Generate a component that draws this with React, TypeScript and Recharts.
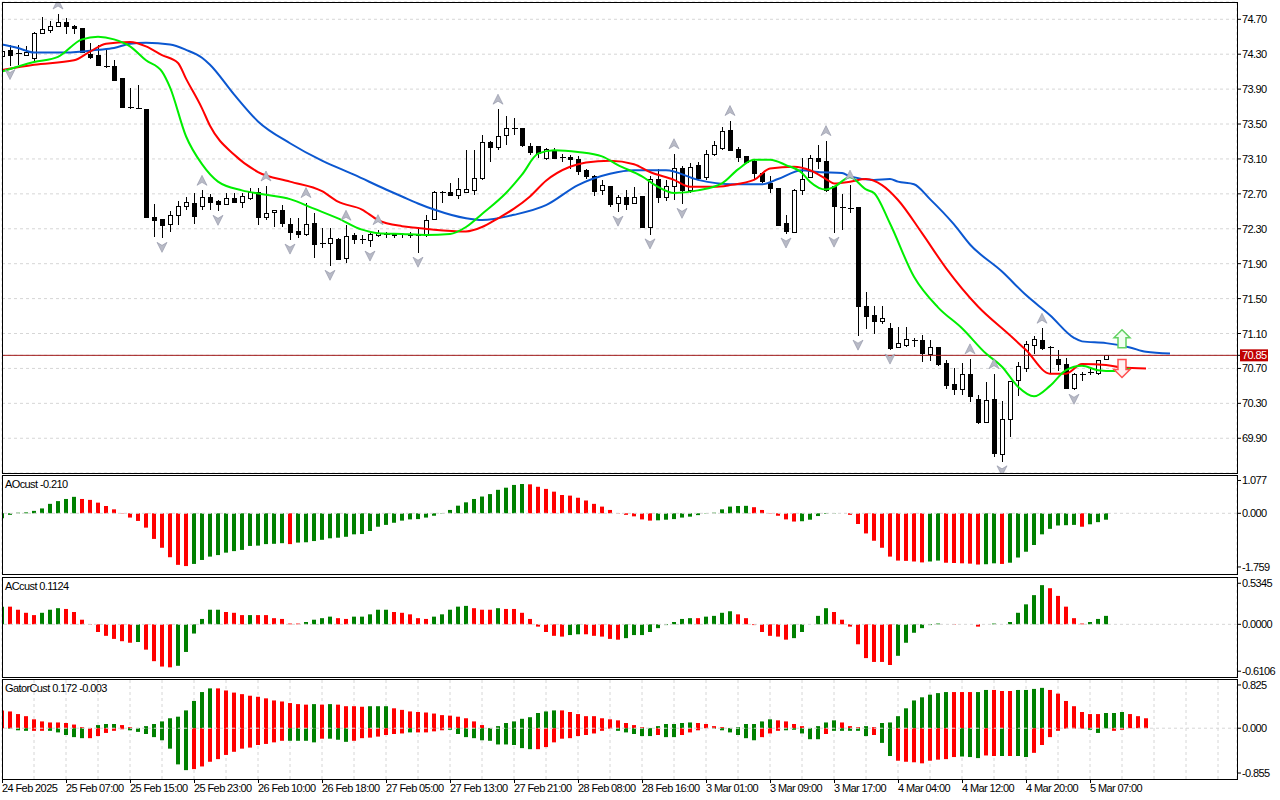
import React from "react";
import {
	ComposedChart,
	Bar,
	Line,
	Scatter,
	XAxis,
	YAxis,
	CartesianGrid,
	ReferenceLine,
	Cell,
} from "recharts";

const FONT = '"Liberation Sans", Arial, sans-serif';

// H1 candles, bar 0 = 24 Feb 2025
const open = [74.27, 74.34, 74.31, 74.29, 74.25, 74.54, 74.57, 74.62, 74.66, 74.62,
	74.6, 74.3, 74.28, 74.16, 74.16, 74.02, 73.69, 73.68, 73.67, 72.43,
	72.41, 72.35, 72.45, 72.55, 72.59, 72.55, 72.66, 72.61, 72.58, 72.65,
	72.6, 72.65, 72.72, 72.43, 72.49, 72.51, 72.35, 72.27, 72.23, 72.36,
	72.13, 72.13, 72.18, 71.96, 72.22, 72.18, 72.17, 72.22, 72.23, 72.24,
	72.23, 72.24, 72.24, 72.22, 72.41, 72.71, 72.71, 72.68, 72.72, 72.74,
	72.88, 73.29, 73.23, 73.37, 73.45, 73.45, 73.24, 73.24, 73.1, 73.18,
	73.12, 73.12, 73.09, 72.97, 72.9, 72.74, 72.78, 72.59, 72.66, 72.59,
	72.67, 72.31, 72.87, 72.66, 72.78, 72.99, 72.74, 73.02, 72.89, 73.15,
	73.22, 73.43, 73.21, 73.13, 73.07, 72.93, 72.82, 72.76, 72.36, 72.26,
	72.74, 72.89, 73.11, 73.07, 72.78, 72.54, 72.53, 72.54, 71.41, 71.31,
	71.24, 71.16, 70.94, 70.96, 71.02, 71.02, 70.86, 70.94, 70.76, 70.52,
	70.46, 70.63, 70.34, 70.08, 70.34, 69.71, 70.12, 70.56, 70.7, 70.96,
	71.02, 70.94, 70.8, 70.75, 70.47, 70.63, 70.65, 70.64, 70.8];
const high = [74.36, 74.41, 74.41, 74.39, 74.55, 74.73, 74.68, 74.76, 74.71, 74.63,
	74.6, 74.43, 74.41, 74.36, 74.23, 74.02, 73.91, 73.95, 73.67, 72.58,
	72.41, 72.5, 72.62, 72.66, 72.71, 72.74, 72.7, 72.63, 72.71, 72.71,
	72.71, 72.77, 72.77, 72.79, 72.52, 72.57, 72.42, 72.42, 72.6, 72.48,
	72.31, 72.31, 72.19, 72.34, 72.25, 72.23, 72.25, 72.29, 72.26, 72.25,
	72.25, 72.26, 72.32, 72.46, 72.73, 72.73, 72.82, 72.88, 73.2, 73.2,
	73.38, 73.31, 73.67, 73.59, 73.57, 73.45, 73.28, 73.24, 73.22, 73.23,
	73.16, 73.15, 73.13, 72.98, 72.92, 72.86, 72.78, 72.69, 72.74, 72.78,
	72.67, 72.9, 72.99, 72.86, 73.16, 73.02, 73.05, 73.06, 73.2, 73.3,
	73.47, 73.54, 73.24, 73.13, 73.09, 72.95, 72.9, 72.76, 72.46, 72.76,
	73.11, 73.14, 73.26, 73.31, 72.78, 72.7, 72.8, 72.54, 71.58, 71.42,
	71.42, 71.22, 71.17, 71.18, 71.05, 71.08, 71.03, 70.95, 70.8, 70.71,
	70.76, 70.81, 70.4, 70.55, 70.64, 70.33, 70.55, 70.77, 71.01, 71.07,
	71.16, 70.96, 70.91, 70.82, 70.65, 70.66, 70.69, 70.8, 70.85];
const low = [74.22, 74.17, 74.18, 74.28, 74.21, 74.53, 74.54, 74.61, 74.53, 74.53,
	74.31, 74.25, 74.16, 74.14, 73.99, 73.68, 73.67, 73.67, 72.43, 72.21,
	72.19, 72.26, 72.34, 72.52, 72.36, 72.52, 72.52, 72.5, 72.57, 72.59,
	72.54, 72.63, 72.34, 72.4, 72.32, 72.32, 72.17, 72.2, 72.22, 71.97,
	72.08, 71.87, 71.94, 71.91, 72.12, 72.12, 72.09, 72.21, 72.2, 72.19,
	72.2, 72.2, 72.02, 72.21, 72.4, 72.59, 72.67, 72.64, 72.71, 72.69,
	72.86, 73.07, 73.2, 73.26, 73.37, 73.24, 73.15, 73.11, 73.09, 73.1,
	73.07, 72.99, 72.92, 72.87, 72.67, 72.69, 72.55, 72.49, 72.52, 72.59,
	72.31, 72.23, 72.6, 72.62, 72.63, 72.58, 72.71, 72.86, 72.86, 73.13,
	73.2, 73.2, 73.07, 73.04, 72.86, 72.82, 72.71, 72.34, 72.24, 72.25,
	72.69, 72.88, 72.99, 72.72, 72.25, 72.29, 72.48, 71.07, 71.15, 71.09,
	71.21, 70.91, 70.93, 70.95, 70.95, 70.77, 70.79, 70.73, 70.47, 70.4,
	70.4, 70.31, 70.06, 70.08, 69.68, 69.63, 69.92, 70.38, 70.66, 70.86,
	70.91, 70.64, 70.67, 70.46, 70.45, 70.56, 70.62, 70.63, 70.8];
const close = [74.33, 74.28, 74.3, 74.32, 74.54, 74.58, 74.62, 74.66, 74.62, 74.59,
	74.32, 74.26, 74.17, 74.16, 74.0, 73.69, 73.69, 73.68, 72.43, 72.39,
	72.34, 72.45, 72.55, 72.6, 72.44, 72.66, 72.6, 72.58, 72.65, 72.6,
	72.67, 72.71, 72.43, 72.48, 72.51, 72.36, 72.26, 72.23, 72.35, 72.12,
	72.13, 72.19, 71.95, 72.21, 72.18, 72.18, 72.23, 72.25, 72.24, 72.22,
	72.23, 72.22, 72.22, 72.4, 72.71, 72.71, 72.68, 72.75, 72.75, 72.88,
	73.29, 73.23, 73.36, 73.45, 73.45, 73.25, 73.17, 73.16, 73.21, 73.11,
	73.12, 73.09, 72.96, 72.9, 72.73, 72.8, 72.58, 72.66, 72.58, 72.66,
	72.31, 72.86, 72.66, 72.79, 72.99, 72.74, 73.0, 72.88, 73.15, 73.25,
	73.42, 73.2, 73.12, 73.06, 72.93, 72.84, 72.76, 72.34, 72.27, 72.74,
	72.86, 73.11, 73.07, 72.74, 72.55, 72.53, 72.53, 71.41, 71.3, 71.24,
	71.27, 70.93, 70.98, 71.03, 71.02, 70.87, 70.94, 70.74, 70.5, 70.46,
	70.63, 70.38, 70.08, 70.33, 69.72, 70.11, 70.55, 70.72, 70.97, 71.03,
	70.93, 70.94, 70.74, 70.47, 70.63, 70.64, 70.65, 70.79, 70.85];

// alligator lines, [bar, price], shifted into the future
const jaw = [[0, 74.41], [2, 74.37], [4, 74.32], [8, 74.32], [12, 74.35], [14, 74.37], [16, 74.42], [18, 74.43],
	[21, 74.41], [23, 74.35], [25, 74.26], [26, 74.18], [29, 73.84], [32, 73.53], [36, 73.28], [40, 73.08],
	[44, 72.92], [48, 72.75], [50, 72.67], [52, 72.59], [54, 72.52], [58, 72.42], [60, 72.4], [64, 72.46],
	[68, 72.57], [72, 72.8], [76, 72.93], [79, 72.97], [83, 72.97], [87, 72.86], [91, 72.81], [95, 72.81],
	[97, 72.87], [100, 72.97], [102, 72.95], [105, 72.94], [106, 72.9], [109, 72.86], [111, 72.87], [112, 72.84],
	[114, 72.81], [116, 72.64], [119, 72.35], [121, 72.12], [125, 71.81], [128, 71.54], [131, 71.31], [134, 71.05],
	[135, 71.01], [138, 70.99], [141, 70.94], [143, 70.89], [146, 70.87]];
const teeth = [[0, 74.12], [4, 74.18], [9, 74.23], [11, 74.33], [13, 74.42], [16, 74.44], [18, 74.39], [20, 74.29],
	[22, 74.2], [23, 74.02], [25, 73.68], [26, 73.48], [29, 73.15], [32, 72.95], [36, 72.84], [40, 72.73],
	[42, 72.61], [45, 72.52], [47, 72.4], [50, 72.33], [52, 72.31], [54, 72.29], [58, 72.27], [60, 72.32],
	[62, 72.42], [64, 72.53], [66, 72.67], [68, 72.85], [71, 73.01], [73, 73.06], [76, 73.08], [79, 73.04],
	[81, 72.95], [84, 72.86], [86, 72.78], [89, 72.78], [91, 72.8], [94, 72.86], [96, 72.99], [99, 73.01],
	[101, 72.97], [103, 72.87], [104, 72.82], [106, 72.84], [108, 72.87], [110, 72.8], [112, 72.63], [115, 72.25],
	[118, 71.85], [122, 71.41], [126, 71.08], [128, 70.91], [131, 70.64], [133, 70.64], [135, 70.75], [138, 70.74],
	[140, 70.71], [143, 70.7]];
const lips = [[0, 74.1], [4, 74.21], [7, 74.27], [10, 74.47], [12, 74.5], [14, 74.47], [16, 74.39], [18, 74.23],
	[20, 74.1], [21, 73.92], [23, 73.36], [25, 73.04], [27, 72.84], [30, 72.74], [33, 72.69], [36, 72.64],
	[39, 72.53], [42, 72.42], [45, 72.29], [47, 72.25], [50, 72.24], [53, 72.23], [56, 72.24], [58, 72.32],
	[60, 72.47], [63, 72.71], [65, 72.92], [67, 73.16], [69, 73.2], [72, 73.18], [75, 73.13], [77, 73.03],
	[80, 72.9], [82, 72.78], [84, 72.71], [87, 72.74], [90, 72.82], [92, 72.98], [94, 73.09], [96, 73.09],
	[98, 73.03], [100, 72.94], [101, 72.84], [103, 72.75], [104, 72.78], [106, 72.89], [108, 72.75], [109, 72.71],
	[111, 72.36], [114, 71.75], [117, 71.4], [120, 71.16], [123, 70.87], [125, 70.72], [127, 70.49], [129, 70.38],
	[131, 70.5], [133, 70.68], [135, 70.73], [137, 70.68], [139, 70.67], [141, 70.7]];

const fractalUp = [7, 25, 33, 38, 43, 47, 62, 84, 91, 103, 106, 121, 124, 130];
const fractalDown = [1, 20, 27, 36, 41, 46, 52, 77, 81, 85, 98, 104, 107, 111, 125, 134];
const signalUp = [{ i: 140, v: 71.04 }];
const signalDown = [{ i: 140, v: 70.7 }];

const aoValues = [-0.16, -0.05, 0.02, 0.03, 0.08, 0.16, 0.31, 0.4, 0.47, 0.54,
	0.47, 0.44, 0.35, 0.24, 0.13, 0.01, -0.14, -0.25, -0.47, -0.84,
	-1.13, -1.44, -1.69, -1.73, -1.66, -1.53, -1.42, -1.37, -1.29, -1.24,
	-1.2, -1.07, -1.06, -1.01, -1.0, -0.98, -1.01, -0.96, -0.95, -0.91,
	-0.87, -0.82, -0.8, -0.77, -0.69, -0.68, -0.58, -0.44, -0.38, -0.31,
	-0.24, -0.2, -0.19, -0.14, -0.08, -0.01, 0.11, 0.25, 0.36, 0.47,
	0.55, 0.63, 0.77, 0.84, 0.93, 0.96, 0.95, 0.87, 0.8, 0.71,
	0.6, 0.58, 0.51, 0.42, 0.31, 0.22, 0.11, 0.01, -0.05, -0.1,
	-0.2, -0.24, -0.23, -0.21, -0.19, -0.14, -0.11, -0.06, -0.01, 0.02,
	0.13, 0.22, 0.24, 0.245, 0.2, 0.11, 0.01, -0.08, -0.2, -0.27,
	-0.26, -0.21, -0.09, -0.02, 0.01, 0.0, -0.05, -0.35, -0.66, -0.9,
	-1.13, -1.42, -1.55, -1.56, -1.58, -1.61, -1.58, -1.55, -1.62, -1.63,
	-1.64, -1.65, -1.68, -1.67, -1.64, -1.66, -1.62, -1.45, -1.26, -1.04,
	-0.69, -0.51, -0.4, -0.39, -0.38, -0.44, -0.36, -0.29, -0.21];
const aoColors = "gggggggggg rrrrrrrrrr rrrrgggggg ggggggrggg gggggggggg gggggggggg ggggggrrrr rrrrrrrrrr rrgggggggg ggggrrrrrr gggggrrrrr rrrrrrggrr rrrggrgggg gggggrggg";

const acValues = [0.23, 0.23, 0.19, 0.15, 0.12, 0.15, 0.19, 0.21, 0.2, 0.16,
	0.06, -0.005, -0.1, -0.15, -0.19, -0.22, -0.24, -0.23, -0.33, -0.48,
	-0.55, -0.56, -0.54, -0.36, -0.12, 0.07, 0.19, 0.19, 0.16, 0.15,
	0.12, 0.12, 0.12, 0.12, 0.08, 0.07, 0.01, 0.01, 0.03, 0.06,
	0.08, 0.1, 0.08, 0.07, 0.1, 0.1, 0.13, 0.19, 0.19, 0.16,
	0.15, 0.13, 0.08, 0.07, 0.1, 0.13, 0.19, 0.23, 0.24, 0.21,
	0.19, 0.19, 0.21, 0.2, 0.2, 0.15, 0.07, -0.03, -0.1, -0.15,
	-0.16, -0.14, -0.13, -0.13, -0.15, -0.16, -0.19, -0.2, -0.18, -0.14,
	-0.14, -0.1, -0.05, -0.01, 0.03, 0.07, 0.08, 0.08, 0.1, 0.11,
	0.15, 0.17, 0.13, 0.08, -0.01, -0.1, -0.15, -0.16, -0.2, -0.18,
	-0.1, 0.0, 0.11, 0.21, 0.16, 0.06, -0.03, -0.26, -0.44, -0.49,
	-0.49, -0.53, -0.41, -0.24, -0.11, -0.05, -0.01, 0.01, 0.0, -0.005,
	0.0, 0.0, -0.03, 0.0, 0.01, 0.0, 0.03, 0.15, 0.26, 0.38,
	0.51, 0.47, 0.37, 0.23, 0.08, 0.01, 0.03, 0.07, 0.11];
const acColors = "grrrrgggrr rrrrrrrgrr rrggggggrr rgrrrrrrgg ggrrgggggr rrrrgggggr rrgrrrrrrr rggrrrrrgg gggggggrgg ggrrrrrrrg ggggrrrrrr rrggggggrr ggrggrgggg grrrrrggg";

const gatorUp = [0.34, 0.32, 0.27, 0.23, 0.17, 0.13, 0.11, 0.11, 0.1, 0.07,
	0.02, 0.005, 0.06, 0.08, 0.08, 0.06, 0.02, 0.005, 0.04, 0.08,
	0.13, 0.19, 0.22, 0.34, 0.52, 0.69, 0.76, 0.76, 0.72, 0.68,
	0.65, 0.62, 0.6, 0.57, 0.53, 0.51, 0.48, 0.46, 0.45, 0.46,
	0.45, 0.46, 0.45, 0.42, 0.42, 0.41, 0.42, 0.42, 0.42, 0.38,
	0.35, 0.32, 0.31, 0.3, 0.28, 0.25, 0.24, 0.22, 0.19, 0.13,
	0.06, 0.005, 0.04, 0.1, 0.13, 0.18, 0.21, 0.29, 0.32, 0.34,
	0.34, 0.31, 0.27, 0.23, 0.23, 0.19, 0.17, 0.15, 0.1, 0.06,
	0.02, 0.005, 0.04, 0.08, 0.08, 0.1, 0.11, 0.1, 0.08, 0.04,
	0.02, 0.005, 0.02, 0.08, 0.08, 0.13, 0.17, 0.15, 0.13, 0.08,
	0.04, 0.005, 0.04, 0.11, 0.15, 0.11, 0.04, 0.02, 0.04, 0.02,
	0.1, 0.11, 0.23, 0.38, 0.53, 0.59, 0.64, 0.67, 0.69, 0.69,
	0.69, 0.69, 0.69, 0.73, 0.73, 0.71, 0.71, 0.73, 0.73, 0.75,
	0.77, 0.73, 0.66, 0.52, 0.42, 0.31, 0.27, 0.27, 0.29, 0.29,
	0.31, 0.27, 0.23, 0.19];
const gatorUpColors = "rrrrrrrrrr rrgggrrggg gggggggrrr rrrrrrrrrg rgrrrrgggr rrrrrrrrrr rrgggggggg rrrrrrrrrr rggggggrrr rrgggggrrr rggggrrrgr gggggggggr rrggrrrggg grrrrrrrgg grrr";
const gatorDown = [0, -0.01, -0.04, -0.05, -0.05, -0.05, -0.05, -0.08, -0.13, -0.17,
	-0.19, -0.19, -0.15, -0.09, -0.05, -0.02, -0.04, -0.07, -0.11, -0.17,
	-0.23, -0.39, -0.69, -0.8, -0.78, -0.73, -0.64, -0.59, -0.51, -0.45,
	-0.39, -0.37, -0.32, -0.3, -0.27, -0.24, -0.24, -0.24, -0.24, -0.27,
	-0.2, -0.2, -0.22, -0.26, -0.24, -0.19, -0.18, -0.16, -0.13, -0.11,
	-0.1, -0.08, -0.08, -0.08, -0.06, -0.04, -0.03, -0.11, -0.17, -0.19,
	-0.23, -0.24, -0.31, -0.31, -0.32, -0.38, -0.4, -0.4, -0.36, -0.27,
	-0.2, -0.19, -0.15, -0.13, -0.1, -0.05, -0.01, -0.05, -0.08, -0.11,
	-0.15, -0.15, -0.13, -0.17, -0.17, -0.13, -0.08, -0.04, 0, -0.01,
	-0.04, -0.08, -0.13, -0.19, -0.23, -0.17, -0.1, -0.05, -0.04, -0.03,
	-0.1, -0.21, -0.21, -0.11, -0.05, -0.05, -0.05, -0.05, -0.15, -0.13,
	-0.28, -0.53, -0.62, -0.64, -0.65, -0.67, -0.62, -0.6, -0.59, -0.55,
	-0.54, -0.55, -0.57, -0.52, -0.53, -0.53, -0.53, -0.53, -0.55, -0.47,
	-0.32, -0.17, -0.05, -0.01, -0.01, -0.01, -0.03, -0.09, -0.003, -0.05,
	-0.03];
const gatorDownColors = "ggggrrgggg grrrrrgggg ggggrrrrrr rrrrrrgggg rgggrrrrrr rgrrrrgggg gggggggrrr rrrrrrrggg ggrggrrrrg gggggrrrgg gggrgggggr ggrrrrrrrr gggrrgrggr rrrrrrgggr r";

const timeLabels = ["24 Feb 2025", "25 Feb 07:00", "25 Feb 15:00", "25 Feb 23:00", "26 Feb 10:00", "26 Feb 18:00",
	"27 Feb 05:00", "27 Feb 13:00", "27 Feb 21:00", "28 Feb 08:00", "28 Feb 16:00", "3 Mar 01:00",
	"3 Mar 09:00", "3 Mar 17:00", "4 Mar 04:00", "4 Mar 12:00", "4 Mar 20:00", "5 Mar 07:00"];
const gridTicks = [0, 4, 8, 12, 16, 20, 24, 28, 32, 36, 40, 44, 48, 52, 56, 60, 64, 68, 72, 76,
	80, 84, 88, 92, 96, 100, 104, 108, 112, 116, 120, 124, 128, 132, 136, 140, 144, 148, 152];
const priceTicks = [69.9, 70.3, 70.7, 71.1, 71.5, 71.9, 72.3, 72.7, 73.1, 73.5, 73.9, 74.3, 74.7];

const GREEN = "#008000";
const RED = "#ff0000";
const GRID = "#d6d6d6";
const lastClose = close[close.length - 1];

const colorOf = (s: string) => s.replace(/ /g, "").split("").map((ch) => (ch === "g" ? GREEN : RED));

const candles = open.map((o, k) => ({ i: k, range: [low[k], high[k]], o, h: high[k], l: low[k], c: close[k] }));
const toPoints = (arr: number[][]) => arr.map(([i, v]) => ({ i, v }));
const upFractals = fractalUp.map((k) => ({ i: k, v: high[k] }));
const downFractals = fractalDown.map((k) => ({ i: k, v: low[k] }));
const aoData = aoValues.map((v, k) => ({ i: k, v }));
const acData = acValues.map((v, k) => ({ i: k, v }));
const gatorData = gatorUp.map((u, k) => ({ i: k, up: u, down: gatorDown[k] }));

const xAxisProps: any = {
	type: "number",
	dataKey: "i",
	domain: [0, 154.375],
	allowDataOverflow: true,
	ticks: gridTicks,
	interval: 0,
};

const Candle = (props: any) => {
	const { x, y, width, height, payload } = props;
	if (x == null || !payload) return null;
	const top = Math.min(y, y + height);
	const h = Math.abs(height);
	const { o, c } = payload;
	const hi = payload.h;
	const lo = payload.l;
	const toY = (p: number) => (hi === lo ? top : top + ((hi - p) / (hi - lo)) * h);
	const cx = Math.round(x + width / 2) + 0.5;
	const yo = toY(o);
	const yc = toY(c);
	const bodyTop = Math.min(yo, yc);
	const bodyH = Math.abs(yc - yo);
	return (
		<g shapeRendering="crispEdges">
			<line x1={cx} x2={cx} y1={top} y2={top + h} stroke="#000" />
			{bodyH < 1 ? (
				<line x1={cx - 3} x2={cx + 3} y1={yo} y2={yo} stroke="#000" />
			) : (
				<rect x={cx - 2} y={bodyTop} width={4} height={bodyH} fill={c >= o ? "#fff" : "#000"} stroke="#000" />
			)}
		</g>
	);
};

const FractalUp = (props: any) => {
	const { cx, cy } = props;
	const y = cy - 10;
	return <polygon points={`${cx},${y - 5} ${cx + 5},${y + 5} ${cx},${y + 2} ${cx - 5},${y + 5}`} fill="#b8bac6" stroke="#8f92a4" strokeWidth={0.6} />;
};

const FractalDown = (props: any) => {
	const { cx, cy } = props;
	const y = cy + 9;
	return <polygon points={`${cx},${y + 5} ${cx + 5},${y - 5} ${cx},${y - 2} ${cx - 5},${y - 5}`} fill="#b8bac6" stroke="#8f92a4" strokeWidth={0.6} />;
};

const SignalUp = (props: any) => {
	const { cx, cy } = props;
	return (
		<path
			d={`M${cx},${cy - 9} L${cx + 8},${cy - 1} L${cx + 4},${cy - 1} L${cx + 4},${cy + 9} L${cx - 4},${cy + 9} L${cx - 4},${cy - 1} L${cx - 8},${cy - 1} Z`}
			fill="#f2fff2"
			stroke="#62d262"
			strokeWidth={1.5}
		/>
	);
};

const SignalDown = (props: any) => {
	const { cx, cy } = props;
	return (
		<path
			d={`M${cx},${cy + 9} L${cx + 8},${cy + 1} L${cx + 4},${cy + 1} L${cx + 4},${cy - 9} L${cx - 4},${cy - 9} L${cx - 4},${cy + 1} L${cx - 8},${cy + 1} Z`}
			fill="#fff2f2"
			stroke="#ff5050"
			strokeWidth={1.5}
		/>
	);
};

const PriceTick = (props: any) => {
	const { x, y, payload } = props;
	const label = payload.value.toFixed(2);
	if (payload.value === lastClose) {
		return (
			<g>
				<rect x={x - 2} y={y - 6} width={28} height={12} fill="#c00000" />
				<text x={x} y={y} dy={4} fill="#fff">{label}</text>
			</g>
		);
	}
	return <text x={x} y={y} dy={4} fill="#000">{label}</text>;
};

const TimeTick = (props: any) => {
	const { x, y, payload } = props;
	const v = payload.value;
	if (v % 8 !== 0 || !timeLabels[v / 8]) return null;
	return (
		<g>
			<line x1={x + 0.5} x2={x + 0.5} y1={y} y2={y + 4} stroke="#000" />
			<text x={x} y={y + 13} fill="#000">{timeLabels[v / 8]}</text>
		</g>
	);
};

const yTick = { fill: "#000" };

const Frame = ({ top, height }: { top: number; height: number }) => (
	<div style={{ position: "absolute", left: 2, top, width: 1236, height, border: "1px solid #000", boxSizing: "border-box", pointerEvents: "none" }} />
);

const Title = ({ top, text }: { top: number; text: string }) => (
	<div style={{ position: "absolute", left: 5, top, fontSize: 11, letterSpacing: -0.6, lineHeight: "14px", fontFamily: FONT, color: "#000" }}>{text}</div>
);

const Pane = ({ top, children }: { top: number; children: React.ReactNode }) => (
	<div style={{ position: "absolute", left: 0, top }}>{children}</div>
);

export default function App() {
	return (
		<div className="mt" style={{ position: "absolute", left: 0, top: 0, width: 1280, height: 800, background: "#fff", overflow: "hidden" }}>
			<style>{`.mt svg text { font-family: ${FONT}; font-size: 11px; letter-spacing: -0.6px; }`}</style>
			<Pane top={0}>
				<ComposedChart width={1280} height={475} data={candles} margin={{ top: 2, right: 0, bottom: 2, left: 2 }}>
					<CartesianGrid stroke={GRID} strokeDasharray="3 3" />
					<XAxis {...xAxisProps} height={0} tick={false} axisLine={false} tickLine={false} />
					<YAxis
						orientation="right"
						width={43}
						domain={[69.502, 74.898]}
						allowDataOverflow
						ticks={[...priceTicks, lastClose]}
						interval={0}
						tick={<PriceTick />}
						tickSize={4}
						tickMargin={1}
						axisLine={false}
						tickLine={{ stroke: "#000" }}
					/>
					<ReferenceLine y={lastClose} stroke="#a01818" />
					<Bar dataKey="range" barSize={5} shape={<Candle />} isAnimationActive={false} />
					<Line data={toPoints(jaw)} dataKey="v" type="monotone" stroke="#0b57d0" strokeWidth={2} dot={false} isAnimationActive={false} />
					<Line data={toPoints(teeth)} dataKey="v" type="monotone" stroke="#ff0000" strokeWidth={2} dot={false} isAnimationActive={false} />
					<Line data={toPoints(lips)} dataKey="v" type="monotone" stroke="#00ee00" strokeWidth={2} dot={false} isAnimationActive={false} />
					<Scatter data={upFractals} dataKey="v" shape={<FractalUp />} isAnimationActive={false} />
					<Scatter data={downFractals} dataKey="v" shape={<FractalDown />} isAnimationActive={false} />
					<Scatter data={signalUp} dataKey="v" shape={<SignalUp />} isAnimationActive={false} />
					<Scatter data={signalDown} dataKey="v" shape={<SignalDown />} isAnimationActive={false} />
				</ComposedChart>
			</Pane>

			<Pane top={475}>
				<ComposedChart width={1280} height={100} data={aoData} margin={{ top: 1, right: 0, bottom: 1, left: 2 }}>
					<CartesianGrid stroke={GRID} strokeDasharray="3 3" horizontal={false} />
					<XAxis {...xAxisProps} height={0} tick={false} axisLine={false} tickLine={false} />
					<YAxis
						orientation="right"
						width={43}
						domain={[-1.99, 1.223]}
						allowDataOverflow
						ticks={[1.077, 0, -1.759]}
						interval={0}
						tick={yTick}
						tickFormatter={(v: number) => v.toFixed(3)}
						tickSize={4}
						tickMargin={1}
						axisLine={false}
						tickLine={{ stroke: "#000" }}
					/>
					<ReferenceLine y={0} stroke={GRID} strokeDasharray="3 3" />
					<Bar dataKey="v" barSize={4} isAnimationActive={false}>
						{aoData.map((d, k) => (
							<Cell key={k} fill={colorOf(aoColors)[k]} />
						))}
					</Bar>
				</ComposedChart>
			</Pane>

			<Pane top={577}>
				<ComposedChart width={1280} height={101} data={acData} margin={{ top: 1, right: 0, bottom: 1, left: 2 }}>
					<CartesianGrid stroke={GRID} strokeDasharray="3 3" horizontal={false} />
					<XAxis {...xAxisProps} height={0} tick={false} axisLine={false} tickLine={false} />
					<YAxis
						orientation="right"
						width={43}
						domain={[-0.686, 0.603]}
						allowDataOverflow
						ticks={[0.5345, 0, -0.6106]}
						interval={0}
						tick={yTick}
						tickFormatter={(v: number) => v.toFixed(4)}
						tickSize={4}
						tickMargin={1}
						axisLine={false}
						tickLine={{ stroke: "#000" }}
					/>
					<ReferenceLine y={0} stroke={GRID} strokeDasharray="3 3" />
					<Bar dataKey="v" barSize={4} isAnimationActive={false}>
						{acData.map((d, k) => (
							<Cell key={k} fill={colorOf(acColors)[k]} />
						))}
					</Bar>
				</ComposedChart>
			</Pane>

			<Pane top={679}>
				<ComposedChart width={1280} height={121} data={gatorData} stackOffset="sign" margin={{ top: 1, right: 0, bottom: 0, left: 2 }}>
					<CartesianGrid stroke={GRID} strokeDasharray="3 3" horizontal={false} />
					<XAxis {...xAxisProps} height={21} tick={<TimeTick />} tickSize={0} tickMargin={0} axisLine={false} tickLine={false} />
					<YAxis
						orientation="right"
						width={43}
						domain={[-0.969, 0.92]}
						allowDataOverflow
						ticks={[0.825, 0, -0.855]}
						interval={0}
						tick={yTick}
						tickFormatter={(v: number) => v.toFixed(3)}
						tickSize={4}
						tickMargin={1}
						axisLine={false}
						tickLine={{ stroke: "#000" }}
					/>
					<ReferenceLine y={0} stroke={GRID} strokeDasharray="3 3" />
					<Bar dataKey="up" stackId="g" barSize={4} isAnimationActive={false}>
						{gatorData.map((d, k) => (
							<Cell key={k} fill={colorOf(gatorUpColors)[k]} />
						))}
					</Bar>
					<Bar dataKey="down" stackId="g" barSize={4} isAnimationActive={false}>
						{gatorData.map((d, k) => (
							<Cell key={k} fill={colorOf(gatorDownColors)[k] || RED} />
						))}
					</Bar>
				</ComposedChart>
			</Pane>

			<Frame top={2} height={472} />
			<Frame top={475} height={100} />
			<Frame top={577} height={101} />
			<Frame top={679} height={101} />

			<Title top={477} text="AOcust -0.210" />
			<Title top={579} text="ACcust 0.1124" />
			<Title top={681} text="GatorCust 0.172 -0.003" />
		</div>
	);
}
